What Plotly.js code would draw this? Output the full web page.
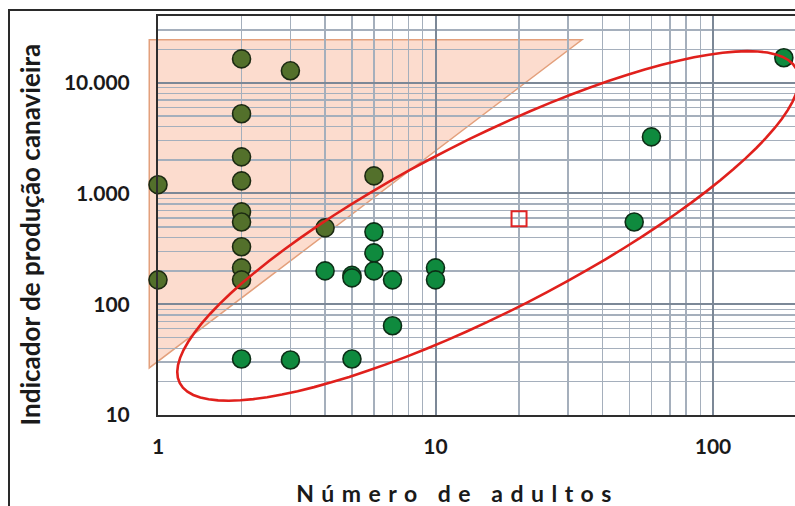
<!DOCTYPE html>
<html><head><meta charset="utf-8">
<script src="https://cdn.plot.ly/plotly-3.0.1.min.js"></script>
<style>
html,body{margin:0;padding:0;background:#fff;}
#wrap{position:relative;width:795px;height:506px;overflow:hidden;}
#chart{width:795px;height:506px;}
#frame{position:absolute;left:8px;top:9px;width:900px;height:600px;border-left:2px solid #2a2a2a;border-top:2px solid #2a2a2a;pointer-events:none;}
</style></head><body>
<div id="wrap"><div id="chart"></div><div id="frame"></div></div>
<script>
// --- data ---
const oliveX = [1, 1, 2, 2, 2, 2, 2, 2, 2, 2, 2, 3, 4, 6];
const oliveY = [1200, 166, 16400, 5240, 2140, 1300, 682, 553, 330, 213, 166, 12800, 489, 1440];
const greenX = [6, 6, 4, 5, 5, 6, 7, 10, 10, 7, 2, 3, 5, 60, 52, 180];
const greenY = [450, 291, 200, 182, 173, 200, 166, 213, 166, 64, 32, 31.4, 32, 3240, 553, 16800];
const squareX = [20];
const squareY = [590];
const triangleX = [0.93, 33.7, 0.93];
const triangleY = [24400, 24400, 26.6];
const ellipseCenter = [15.46, 509];
const ellipseAxesPx = [346, 86];
const ellipseAngleDeg = 27;
const xTickVals = [1, 10, 100];
const xTickText = ['1', '10', '100'];
const yTickVals = [10, 100, 1000, 10000];
const yTickText = ['10', '100', '1.000', '10.000'];
const xRangeLog = [0, 2.2955];
const yRangeLog = [1, 4.602];
const xTitle = 'Número de adultos';
const yTitle = 'Indicador de produção canavieira';

// triangle path (paper x so it can extend left of the plot edge)
const toPaperX = v => (Math.log10(v) - xRangeLog[0]) / (xRangeLog[1] - xRangeLog[0]);
let triPath = '';
for (let i = 0; i < triangleX.length; i++) {
  triPath += (i ? ' L ' : 'M ') + toPaperX(triangleX[i]).toFixed(5) + ',' + triangleY[i];
}
triPath += ' Z';

// ellipse outline (pixel offsets around a data anchor)
const th = ellipseAngleDeg * Math.PI / 180;
let ellPath = '';
const N = 96;
for (let k = 0; k <= N; k++) {
  const t = 2 * Math.PI * k / N;
  const dx = ellipseAxesPx[0] * Math.cos(t) * Math.cos(th) - ellipseAxesPx[1] * Math.sin(t) * Math.sin(th);
  const dy = ellipseAxesPx[0] * Math.cos(t) * Math.sin(th) + ellipseAxesPx[1] * Math.sin(t) * Math.cos(th);
  ellPath += (k ? ' L ' : 'M ') + dx.toFixed(2) + ',' + dy.toFixed(2);
}
ellPath += ' Z';

const traces = [
  {x: oliveX, y: oliveY, type: 'scatter', mode: 'markers', cliponaxis: false,
   marker: {size: 18, color: '#53702b', line: {color: '#1c2a12', width: 1.6}}},
  {x: greenX, y: greenY, type: 'scatter', mode: 'markers', cliponaxis: false,
   marker: {size: 18, color: '#0f8a3e', line: {color: '#0c2e16', width: 1.6}}},
  {x: squareX, y: squareY, type: 'scatter', mode: 'markers', cliponaxis: false,
   marker: {symbol: 'square-open', size: 15, color: '#e02424', line: {color: '#e02424', width: 2}}}
];

const tickFont = {family: 'Lato, sans-serif', size: 21, color: '#1a1a1a', weight: 'bold'};
const layout = {
  width: 795, height: 506,
  margin: {l: 158, r: 0, t: 16, b: 91, pad: 0},
  paper_bgcolor: '#ffffff', plot_bgcolor: 'rgba(0,0,0,0)',
  showlegend: false,
  font: {family: 'Lato, sans-serif', color: '#1a1a1a'},
  xaxis: {
    type: 'log', range: xRangeLog, tickmode: 'array', tickvals: xTickVals, ticktext: xTickText,
    showgrid: true, gridcolor: '#7c8897', gridwidth: 2,
    minor: {dtick: 'D1', showgrid: true, gridcolor: '#a5afbc', gridwidth: 1.4, ticks: ''},
    showline: true, linecolor: '#2e2e2e', linewidth: 2, mirror: true,
    ticks: '', ticklabelstandoff: 12, tickfont: tickFont, zeroline: false
  },
  yaxis: {
    type: 'log', range: yRangeLog, tickmode: 'array', tickvals: yTickVals, ticktext: yTickText,
    showgrid: true, gridcolor: '#7c8897', gridwidth: 2,
    minor: {dtick: 'D1', showgrid: true, gridcolor: '#a5afbc', gridwidth: 1.4, ticks: ''},
    showline: true, linecolor: '#2e2e2e', linewidth: 2, mirror: false,
    ticks: '', ticklabelstandoff: 22, tickfont: tickFont, zeroline: false
  },
  shapes: [
    {type: 'path', xref: 'paper', yref: 'y', path: triPath, layer: 'below',
     fillcolor: '#fcdcce', line: {color: '#e3a07c', width: 1.5}},
    {type: 'path', xref: 'x', yref: 'y', xsizemode: 'pixel', ysizemode: 'pixel',
     xanchor: ellipseCenter[0], yanchor: ellipseCenter[1], path: ellPath, layer: 'above',
     line: {color: '#e0201c', width: 2.6}}
  ],
  annotations: [
    {text: yTitle, xref: 'paper', yref: 'paper', x: -0.2002, y: 0.4536, textangle: -90,
     showarrow: false, xanchor: 'center', yanchor: 'middle',
     font: {family: 'Lato, sans-serif', size: 26, color: '#1a1a1a', weight: 'bold'}},
    {text: xTitle, xref: 'paper', yref: 'paper', x: 0.4694, y: -0.1955,
     showarrow: false, xanchor: 'center', yanchor: 'middle',
     font: {family: 'Lato, sans-serif', size: 23, color: '#1a1a1a', weight: 'bold'}}
  ]
};

Plotly.newPlot('chart', traces, layout, {staticPlot: true}).then(() => {
  document.querySelectorAll('.annotation-text').forEach(t => {
    if (t.textContent === xTitle) t.style.letterSpacing = '7.5px';
  });
});
</script>
</body></html>
